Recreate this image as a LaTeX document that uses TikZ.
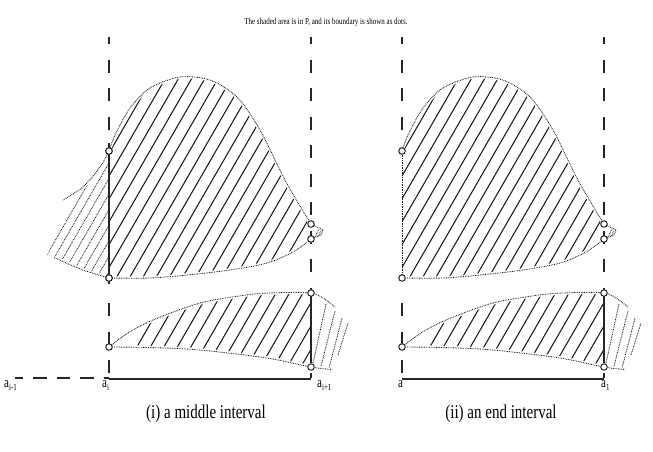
\documentclass[tikz,border=0pt]{standalone}
\usepackage{fontspec}
\setmainfont{Liberation Serif}
\newcommand\blobparts{%
  % top blob hatching
  \begin{scope}
    \clip plot[smooth] coordinates {(109,278) (150,278) (187,275) (230,270) (267,263) (293,252) (311,239)} -- (311,224)
      -- plot[smooth] coordinates {(311,224) (286,182) (260,130) (237,97) (210,80) (180,77) (150,88) (130,108) (115,135) (109,151)} -- cycle;
    \foreach \k in {0,...,21} \draw[hatchln] ({30+13.2*\k},290) -- ++(200,-346.4);
  \end{scope}
  % bottom blob hatching
  \begin{scope}
    \clip plot[smooth] coordinates {(109,347) (128,333) (153,320) (200,303) (250,294.5) (285,292.5) (311,293)} -- (311,367)
      -- plot[smooth] coordinates {(311,367) (267,358) (200,350) (150,347.5) (109,347)} -- cycle;
    \foreach \k in {0,...,14} \draw[hatchln] ({117.8+13.5*\k},380) -- ++(200,-346.4);
  \end{scope}
  % hatching right of the bottom blob
  \draw[dotln] (313,363) -- (326,304);
  \draw[dotln] (321,366) -- (335,311);
  \draw[dotln] (329,368) -- (342,318);
  \draw[dotln] (338,355) -- (348,323);
  % small piece right of the top blob
  \draw[dotln] (315,237) -- (319,229);
  \draw[dotln] (318,236) -- (321,231);
  % gaps between hatching and boundary
  \draw[gapln] plot[smooth] coordinates {(109,151) (115,135) (130,108) (150,88) (180,77) (210,80) (237,97) (260,130) (286,182) (311,224)};
  \draw[gapln] plot[smooth] coordinates {(109,278) (150,278) (187,275) (230,270) (267,263) (293,252) (311,239)};
  \draw[gapln] plot[smooth] coordinates {(109,347) (128,333) (153,320) (200,303) (250,294.5) (285,292.5) (311,293) (323,298) (335,307)};
  \draw[gapln] plot[smooth] coordinates {(109,347) (150,347.5) (200,350) (267,358) (311,367) (332,369.5)};
  % boundaries
  \draw[dotln] plot[smooth] coordinates {(109,151) (115,135) (130,108) (150,88) (180,77) (210,80) (237,97) (260,130) (286,182) (311,224)};
  \draw[dotln] plot[smooth] coordinates {(109,278) (150,278) (187,275) (230,270) (267,263) (293,252) (311,239)};
  \draw[dotln] (311,224) -- (323,230) -- (321,235) -- (311,239);
  \draw[dotln] plot[smooth] coordinates {(109,347) (128,333) (153,320) (200,303) (250,294.5) (285,292.5) (311,293) (323,298) (335,307)};
  \draw[dotln] plot[smooth] coordinates {(109,347) (150,347.5) (200,350) (267,358) (311,367) (332,369.5)};
  % frame lines
  \draw[dashln, dash phase=6pt] (311,37) -- (311,378);
  \draw[solidln] (109,379) -- (311,379);
  \draw[dashln, dash phase=13pt] (109,287.5) -- (109,378);
  % end points
  \node[endpt] (c1) at (109,151) {};
  \node[endpt] (c2) at (109,278) {};
  \node[endpt] (c3) at (311,224) {};
  \node[endpt] (c4) at (311,239) {};
  \node[endpt] (c5) at (109,347) {};
  \node[endpt] (c6) at (311,293) {};
  \node[endpt] (c7) at (311,367) {};
  \draw[solidln] (c6) -- (c7);
}
\begin{document}
\begin{tikzpicture}[x=1pt,y=-1pt,
  dotln/.style={line width=0.85pt, dash pattern=on 0.8pt off 0.9pt, black!90},
  gapln/.style={line width=3.5pt, white},
  hatchln/.style={line width=1.05pt, black!90},
  dashln/.style={line width=1.2pt, dash pattern=on 13pt off 15.5pt, black!85},
  solidln/.style={line width=1.1pt, black!85},
  endpt/.style={circle, draw=black!85, fill=white, line width=1pt, minimum size=6.5pt, inner sep=0pt},
  lbl/.style={inner sep=0pt, anchor=base west, font=\fontsize{11}{11}\selectfont},
  capt/.style={inner sep=0pt, anchor=base, font=\fontsize{15}{15}\selectfont}
]
\useasboundingbox (0,0) rectangle (653,451);
\node[inner sep=0pt, anchor=base, font=\fontsize{7}{7}\selectfont] (title) at (326,24) {\scalebox{1}[1.3]{The shaded area is in P, and its boundary is shown as dots.}};
% ---------- left panel: a middle interval ----------
\begin{scope}[name prefix=L-]
  % hatching left of a_i
  \begin{scope}
    \clip plot[smooth] coordinates {(109,151) (100,167) (90,180) (80,190)} -- (47,255)
      -- plot[smooth] coordinates {(55,258) (83,270) (109,278)} -- cycle;
    \foreach \k in {0,...,9} \draw[dotln] ({26.6+9*\k},290) -- ++(200,-346.4);
  \end{scope}
  \draw[gapln] plot[smooth] coordinates {(109,151) (100,167) (83,187) (63,200)};
  \draw[gapln] plot[smooth] coordinates {(109,278) (83,270) (55,258)};
  \draw[dotln] plot[smooth] coordinates {(109,151) (100,167) (83,187) (63,200)};
  \draw[dotln] plot[smooth] coordinates {(109,278) (83,270) (55,258)};
  \blobparts
  \draw[dashln, dash phase=6pt] (109,37) -- (109,143);
  \draw[solidln] (109,143) -- (109,284);
  \node[endpt] at (109,151) {};
  \node[endpt] at (109,278) {};
  \draw[dashln, dash pattern=on 13.5pt off 10pt, dash phase=5.5pt] (15,378) -- (109,378);
  \node[lbl] (la) at (4,387) {\scalebox{1}[1.35]{a\raisebox{-0.45ex}{\fontsize{7}{7}\selectfont i-1}}};
  \node[lbl] (lb) at (102,387) {\scalebox{1}[1.35]{a\raisebox{-0.45ex}{\fontsize{7}{7}\selectfont i}}};
  \node[lbl] (lc) at (317,387) {\scalebox{1}[1.35]{a\raisebox{-0.45ex}{\fontsize{7}{7}\selectfont i+1}}};
  \node[capt] (cap) at (206,418) {\scalebox{1}[1.3]{(i) a middle interval}};
\end{scope}
% ---------- right panel: an end interval ----------
\begin{scope}[name prefix=R-, xshift=293pt]
  \blobparts
  \draw[dashln, dash phase=6pt] (109,37) -- (109,143);
  \draw[dotln] (c1) -- (c2);
  \node[lbl] (la) at (105,387) {\scalebox{1}[1.35]{a}};
  \node[lbl] (lc) at (308,387) {\scalebox{1}[1.35]{a\raisebox{-0.45ex}{\fontsize{7}{7}\selectfont 1}}};
  \node[capt] (cap) at (208,418) {\scalebox{1}[1.3]{(ii) an end interval}};
\end{scope}
\end{tikzpicture}
\end{document}
